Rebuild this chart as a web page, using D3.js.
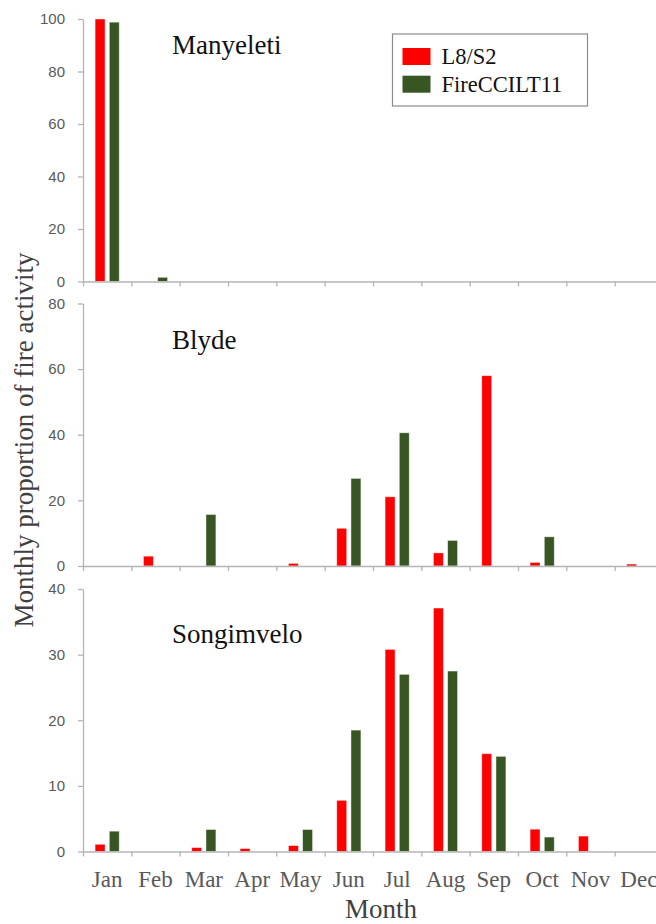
<!DOCTYPE html>
<html lang="en">
<head>
    <meta charset="UTF-8">
    <title>Monthly proportion of fire activity</title>
    <script src="https://d3js.org/d3.v7.min.js"></script>
    <style>
        * {
            margin: 0;
            padding: 0;
            box-sizing: border-box;
        }
        body {
            background: #fff;
        }
        .serif {
            font-family: "Liberation Serif", "DejaVu Serif", serif;
        }
    </style>
</head>
<body>
    <div id="chart"></div>

    <script>
        // data (% of fire activity per month)
        const months = ["Jan", "Feb", "Mar", "Apr", "May", "Jun", "Jul", "Aug", "Sep", "Oct", "Nov", "Dec"];
        const seriesNames = ["L8/S2", "FireCCILT11"];
        const sites = ["Manyeleti", "Blyde", "Songimvelo"];

        const manyeletiL8 = [100, 0, 0, 0, 0, 0, 0, 0, 0, 0, 0, 0];
        const manyeletiCCI = [98.8, 1.6, 0, 0, 0, 0, 0, 0, 0, 0, 0, 0];
        const blydeL8 = [0, 3.0, 0, 0, 0.8, 11.5, 21.1, 4.0, 58.0, 1.1, 0, 0.6];
        const blydeCCI = [0, 0, 15.7, 0, 0, 26.7, 40.6, 7.8, 0, 8.9, 0, 0];
        const songimveloL8 = [1.1, 0, 0.6, 0.45, 0.9, 7.8, 30.8, 37.1, 14.9, 3.4, 2.35, 0];
        const songimveloCCI = [3.1, 0, 3.35, 0, 3.35, 18.5, 27.0, 27.5, 14.5, 2.2, 0, 0];

        const yMax = [100, 80, 40];
        const yTicks = [
            [0, 20, 40, 60, 80, 100],
            [0, 20, 40, 60, 80],
            [0, 10, 20, 30, 40]
        ];

        const siteValues = [
            [manyeletiL8, manyeletiCCI],
            [blydeL8, blydeCCI],
            [songimveloL8, songimveloCCI]
        ];

        // layout
        const W = 656, H = 924;
        const plotLeft = 83, plotRight = 663;
        const panelTop = [19, 303.5, 589];
        const panelH = 262.5;
        const titleY = [54, 349, 643];

        const colors = d3.scaleOrdinal().domain(seriesNames).range(["#ff0000", "#375623"]);
        const axisColor = "#b4b4b4";

        const svg = d3.select("#chart")
            .append("svg")
            .attr("width", W)
            .attr("height", H)
            .style("display", "block");

        const x0 = d3.scaleBand()
            .domain(months)
            .range([plotLeft, plotRight])
            .paddingInner(0.5)
            .paddingOuter(0.25);

        const x1 = d3.scaleBand()
            .domain(seriesNames)
            .range([0, x0.bandwidth()])
            .paddingInner(0.3);

        // boundaries between months for tick marks
        const xEdge = d3.scaleLinear().domain([0, 12]).range([plotLeft, plotRight]);

        sites.forEach((site, p) => {
            const y = d3.scaleLinear()
                .domain([0, yMax[p]])
                .range([panelTop[p] + panelH, panelTop[p]]);

            const g = svg.append("g");

            // y axis
            const yAxis = g.append("g")
                .attr("transform", `translate(${plotLeft},0)`)
                .call(d3.axisLeft(y).tickValues(yTicks[p]).tickSize(5).tickSizeOuter(0).tickPadding(13));
            yAxis.select(".domain").attr("stroke", axisColor).attr("stroke-width", 1.3);
            yAxis.selectAll(".tick line").attr("stroke", axisColor).attr("stroke-width", 1.3);
            yAxis.selectAll(".tick text")
                .style("font-family", "'Liberation Sans', Arial, sans-serif")
                .style("font-size", "15px")
                .attr("fill", "#595959");

            // bars
            const rows = [];
            months.forEach((m, i) => {
                seriesNames.forEach((s, k) => {
                    rows.push({ month: m, series: s, value: siteValues[p][k][i] });
                });
            });

            g.selectAll(".bar")
                .data(rows.filter(d => d.value > 0))
                .join("rect")
                .attr("class", "bar")
                .attr("x", d => x0(d.month) + x1(d.series))
                .attr("width", x1.bandwidth())
                .attr("y", d => y(d.value))
                .attr("height", d => y(0) - y(d.value))
                .attr("fill", d => colors(d.series))
                .attr("stroke", "rgba(255,255,255,0.55)")
                .attr("stroke-width", 0.8);

            // x axis with boundary ticks
            const xAxis = g.append("g")
                .attr("transform", `translate(0,${y(0)})`)
                .call(d3.axisBottom(xEdge).tickValues(d3.range(0, 13)).tickSize(5).tickSizeOuter(0).tickFormat(""));
            xAxis.select(".domain").attr("stroke", axisColor).attr("stroke-width", 1.3);
            xAxis.selectAll(".tick line").attr("stroke", axisColor).attr("stroke-width", 1.3);

            // month labels only under the bottom panel
            if (p === sites.length - 1) {
                const lab = g.append("g")
                    .attr("transform", `translate(0,${y(0)})`)
                    .call(d3.axisBottom(x0).tickSize(0));
                lab.select(".domain").remove();
                lab.selectAll(".tick text")
                    .attr("class", "serif")
                    .attr("y", 35)
                    .attr("dy", 0)
                    .style("font-size", "23px")
                    .attr("fill", "#595959");
            }

            g.append("text")
                .attr("class", "serif")
                .attr("x", 172)
                .attr("y", titleY[p])
                .style("font-size", "27px")
                .attr("fill", "#111")
                .text(site);
        });

        // legend
        const legend = svg.append("g").attr("transform", "translate(392.5,34)");
        legend.append("rect")
            .attr("width", 195)
            .attr("height", 72)
            .attr("fill", "#fff")
            .attr("stroke", "#8c8c8c")
            .attr("stroke-width", 1.2);

        seriesNames.forEach((s, i) => {
            const row = legend.append("g").attr("transform", `translate(10,${14 + i * 27.7})`);
            row.append("rect")
                .attr("width", 28)
                .attr("height", 17)
                .attr("fill", colors(s));
            row.append("text")
                .attr("class", "serif")
                .attr("x", 39)
                .attr("y", 16)
                .style("font-size", "22.5px")
                .attr("fill", "#111")
                .text(s);
        });

        // axis titles
        svg.append("text")
            .attr("class", "serif")
            .attr("x", (plotLeft + plotRight) / 2 + 8)
            .attr("y", 918)
            .attr("text-anchor", "middle")
            .style("font-size", "27px")
            .attr("fill", "#404040")
            .text("Month");

        svg.append("text")
            .attr("class", "serif")
            .attr("transform", "translate(33,440) rotate(-90)")
            .attr("text-anchor", "middle")
            .style("font-size", "27px")
            .attr("fill", "#404040")
            .text("Monthly proportion of fire activity");
    </script>
</body>
</html>
